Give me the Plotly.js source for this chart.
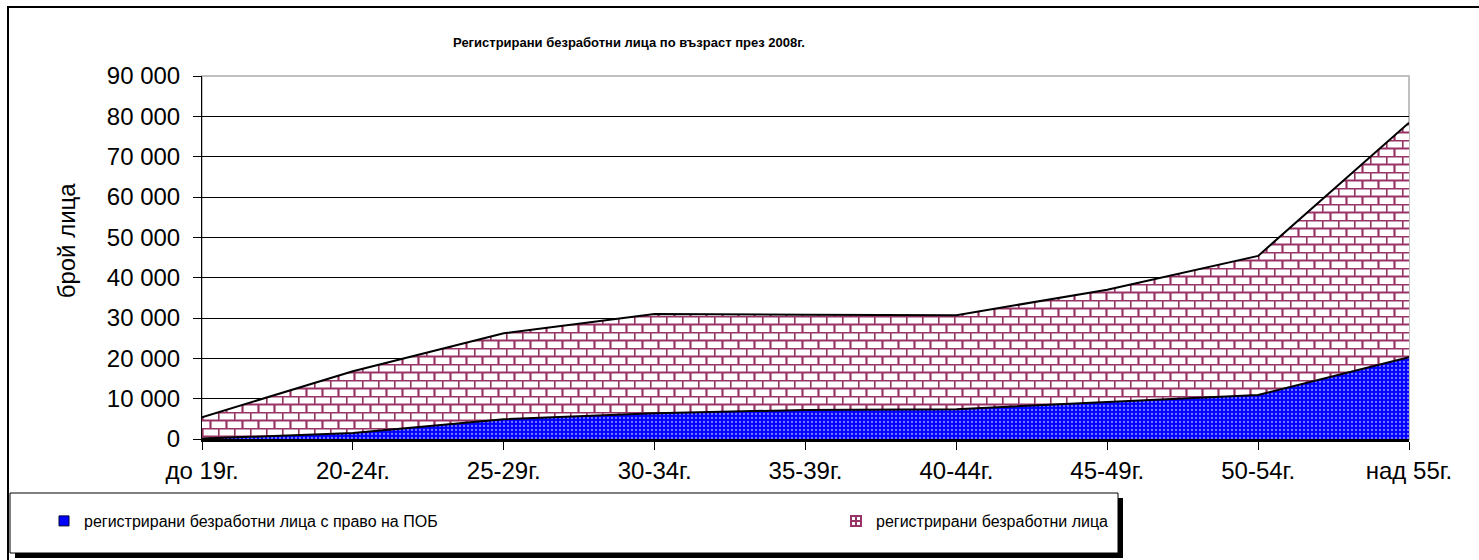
<!DOCTYPE html>
<html>
<head>
<meta charset="utf-8">
<script src="https://cdn.plot.ly/plotly-3.0.1.min.js"></script>
<style>
  html, body { margin: 0; padding: 0; background: #ffffff; }
  #chart { width: 1479px; height: 560px; }
</style>
</head>
<body>
<div id="chart"></div>
<script>
// ---- data ----
const categories = ['до 19г.', '20-24г.', '25-29г.', '30-34г.', '35-39г.', '40-44г.', '45-49г.', '50-54г.', 'над 55г.'];
const totalUnemployed = [5400, 16800, 26200, 31000, 30800, 30700, 37000, 45400, 78400];
const withBenefit = [100, 1500, 4900, 6400, 7200, 7400, 9200, 10900, 20300];
const seriesNames = ['регистрирани безработни лица с право на ПОБ', 'регистрирани безработни лица'];
const yTickValues = [0, 10000, 20000, 30000, 40000, 50000, 60000, 70000, 80000, 90000];
const chartTitle = 'Регистрирани безработни лица по възраст през 2008г.';
const yTitle = 'брой лица';

// ---- layout geometry (pixels) ----
const W = 1479, H = 560;
const plotL = 202, plotR = 1409, plotT = 76, plotB = 439;
const pw = plotR - plotL, ph = plotB - plotT;
const px2x = p => (p - plotL) / pw;
const py2y = p => (plotB - p) / ph;

const FONT = '"Liberation Sans", Arial, sans-serif';
const BRICK = '#993366';

const traces = [
  {
    type: 'scatter', mode: 'lines', x: categories, y: totalUnemployed,
    name: seriesNames[1], fill: 'tozeroy', showlegend: false,
    line: { color: '#000000', width: 2 },
    fillcolor: '#ffffff',
    fillpattern: { shape: '+', fgcolor: BRICK, bgcolor: '#ffffff', size: 8, solidity: 0.3 },
    hoverinfo: 'x+y+name'
  },
  {
    type: 'scatter', mode: 'lines', x: categories, y: withBenefit,
    name: seriesNames[0], fill: 'tozeroy', showlegend: false,
    line: { color: '#000000', width: 2 },
    fillcolor: '#0000ff',
    fillpattern: { shape: '.', fgcolor: '#7a7aff', bgcolor: '#0000ff', size: 4, solidity: 0.25 },
    hoverinfo: 'x+y+name'
  },
  // legend entries (each in its own legend box so they sit where the reference has them)
  {
    type: 'scatter', mode: 'markers', x: [null], y: [null], name: seriesNames[0],
    marker: { symbol: 'square', size: 10, color: '#0000ff', line: { color: '#000033', width: 1 } },
    showlegend: true, legend: 'legend', hoverinfo: 'skip'
  },
  {
    type: 'scatter', mode: 'markers', x: [null], y: [null], name: seriesNames[1],
    marker: { symbol: 'square-cross-open', size: 10, color: BRICK, line: { color: BRICK, width: 2 } },
    showlegend: true, legend: 'legend2', hoverinfo: 'skip'
  }
];

const legendCommon = {
  orientation: 'h', xanchor: 'left', xref: 'paper',
  yanchor: 'top', yref: 'paper', y: py2y(504),
  bgcolor: 'rgba(0,0,0,0)', borderwidth: 0,
  font: { family: FONT, size: 16, color: '#000000' },
  itemwidth: 30, itemclick: false, itemdoubleclick: false
};

const layout = {
  width: W, height: H,
  margin: { l: plotL, r: W - plotR, t: plotT, b: H - plotB, pad: 0, autoexpand: false },
  paper_bgcolor: '#ffffff', plot_bgcolor: '#ffffff',
  font: { family: FONT, color: '#000000', size: 22 },
  separators: '. ',
  showlegend: true,
  title: {
    text: '<b>' + chartTitle + '</b>',
    font: { family: FONT, size: 13, color: '#000000' },
    x: px2x(629), xref: 'paper', xanchor: 'center',
    y: 1 - 42 / H, yref: 'container', yanchor: 'middle'
  },
  xaxis: {
    type: 'category', range: [0, categories.length - 1],
    showgrid: false, zeroline: false,
    showline: true, linecolor: '#000000', linewidth: 3,
    ticks: 'outside', ticklen: 8, tickwidth: 1, tickcolor: '#000000',
    tickfont: { family: FONT, size: 24, color: '#000000' },
    fixedrange: true
  },
  yaxis: {
    range: [0, 90000], tickvals: yTickValues, tickformat: ',d',
    showgrid: true, gridcolor: '#000000', gridwidth: 1,
    zeroline: false,
    showline: true, linecolor: '#000000', linewidth: 1,
    ticks: 'outside', ticklen: 8, tickwidth: 1, tickcolor: '#000000',
    ticklabelstandoff: 8,
    tickfont: { family: FONT, size: 24, color: '#000000' },
    title: { text: '&nbsp;&nbsp;&nbsp;&nbsp;&nbsp;' + yTitle, font: { family: FONT, size: 24, color: '#000000' }, standoff: 24 },
    fixedrange: true
  },
  legend: Object.assign({}, legendCommon, { x: px2x(44) }),
  legend2: Object.assign({}, legendCommon, { x: px2x(836) }),
  shapes: [
    // plot area border (grey top / right)
    { type: 'rect', xref: 'paper', yref: 'paper', x0: 0, x1: 1, y0: 0, y1: 1,
      line: { color: '#c0c0c0', width: 2 }, fillcolor: 'rgba(0,0,0,0)', layer: 'between' },
    // outer chart frame
    { type: 'rect', xref: 'paper', yref: 'paper', x0: px2x(8), x1: px2x(1490), y0: py2y(7), y1: py2y(570),
      line: { color: '#000000', width: 2 }, fillcolor: 'rgba(0,0,0,0)', layer: 'above' },
    // legend shadow
    { type: 'rect', xref: 'paper', yref: 'paper', x0: px2x(15), x1: px2x(1123), y0: py2y(498), y1: py2y(558),
      line: { width: 0 }, fillcolor: '#000000', layer: 'above' },
    // legend box
    { type: 'rect', xref: 'paper', yref: 'paper', x0: px2x(10), x1: px2x(1118), y0: py2y(493), y1: py2y(553),
      line: { color: '#000000', width: 1 }, fillcolor: '#ffffff', layer: 'above' }
  ]
};

// Restyle the '+' fill tile of the total series into a brick tile (style only)
function brickify() {
  const pats = document.querySelectorAll('#chart pattern');
  pats.forEach(p => {
    const path = p.querySelector('path');
    if (!path) return;
    const st = (path.getAttribute('style') || '') + ' ' + (path.getAttribute('stroke') || '');
    const isBrick = /153,\s*51,\s*102|#993366/i.test(st);
    if (!isBrick) return;
    const w = 16, h = 16;
    p.setAttribute('width', w);
    p.setAttribute('height', h);
    const rect = p.querySelector('rect');
    if (rect) { rect.setAttribute('width', w); rect.setAttribute('height', h); }
    path.setAttribute('d', 'M0,0.5H16M0,8.5H16M0.5,0V8M8.5,8V16');
    path.style.strokeWidth = '2.2px';
    path.style.fill = 'none';
  });
}

Plotly.newPlot('chart', traces, layout, { displayModeBar: false, staticPlot: true }).then(brickify);
</script>
</body>
</html>
